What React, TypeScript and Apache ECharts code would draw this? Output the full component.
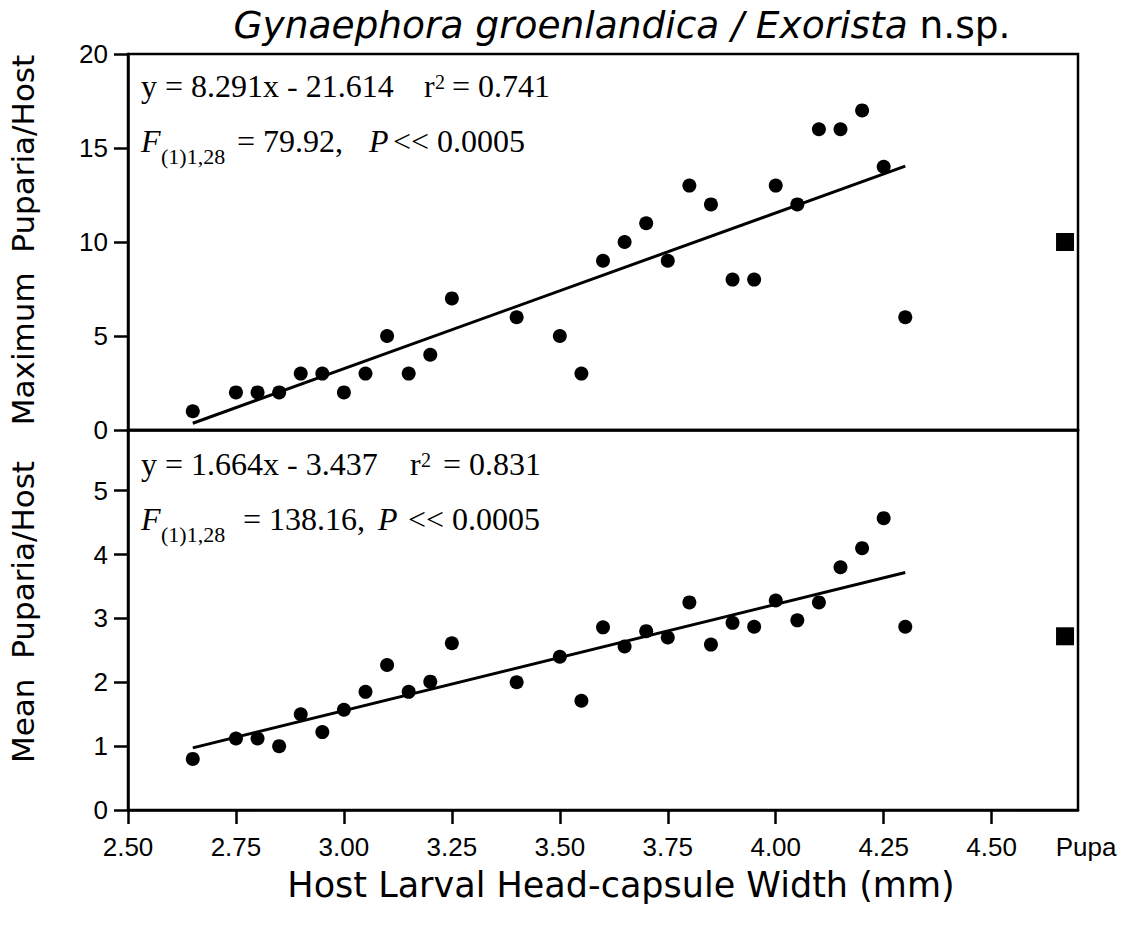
import React, { useEffect, useRef } from "react";
import * as echarts from "echarts";

// ---- data ----
const hostWidth = [
  2.65, 2.75, 2.8, 2.85, 2.9, 2.95, 3.0, 3.05, 3.1, 3.15, 3.2, 3.25, 3.4, 3.5, 3.55,
  3.6, 3.65, 3.7, 3.75, 3.8, 3.85, 3.9, 3.95, 4.0, 4.05, 4.1, 4.15, 4.2, 4.25, 4.3,
];
const maxPuparia = [
  1, 2, 2, 2, 3, 3, 2, 3, 5, 3, 4, 7, 6, 5, 3,
  9, 10, 11, 9, 13, 12, 8, 8, 13, 12, 16, 16, 17, 14, 6,
];
const meanPuparia = [
  0.8, 1.12, 1.12, 1.0, 1.5, 1.22, 1.57, 1.85, 2.27, 1.85, 2.01, 2.61, 2.0, 2.4, 1.71,
  2.86, 2.56, 2.8, 2.7, 3.25, 2.59, 2.93, 2.87, 3.28, 2.97, 3.25, 3.8, 4.1, 4.57, 2.87,
];
const pupaPosition = 4.67;
const pupaMax = 10;
const pupaMean = 2.72;
const pupaLabel = "Pupa";

const maxFit = { slope: 8.291, intercept: -21.614, from: 2.65, to: 4.3 };
const meanFit = { slope: 1.664, intercept: -3.437, from: 2.65, to: 4.3 };

const xTicks = [2.5, 2.75, 3.0, 3.25, 3.5, 3.75, 4.0, 4.25, 4.5];
const maxTicks = [0, 5, 10, 15, 20];
const meanTicks = [0, 1, 2, 3, 4, 5];

const titleItalic = "Gynaephora groenlandica / Exorista";
const titlePlain = "n.sp.";
const xTitle = "Host Larval Head-capsule Width (mm)";
const yTitleTop = "Maximum  Puparia/Host";
const yTitleBottom = "Mean  Puparia/Host";

const SANS = "DejaVu Sans";
const TICKFONT = "Liberation Sans";
const SERIF = "Liberation Serif";
const BLACK = "#000";

const fitLine = (f: { slope: number; intercept: number; from: number; to: number }) => [
  [f.from, f.slope * f.from + f.intercept],
  [f.to, f.slope * f.to + f.intercept],
];

// serif annotation piece placed by its baseline
const MAIN = 32;
const SUB = 22;
const SUP = 20;
const piece = (text: string, x: number, baseline: number, fs: number, italic = false) => ({
  type: "text",
  x,
  y: baseline - 0.3375 * fs,
  style: {
    text,
    fontSize: fs,
    fontFamily: SERIF,
    fontStyle: italic ? "italic" : "normal",
    align: "left",
    verticalAlign: "middle",
    fill: BLACK,
  },
});

export default function App() {
  const ref = useRef<HTMLDivElement>(null);
  useEffect(() => {
    if (!ref.current) return;
    const chart = echarts.init(ref.current, null, { renderer: "svg" });
    const axisLineStyle = { color: BLACK, width: 2.5 };
    const tickLabel = { fontSize: 26, fontFamily: TICKFONT, color: BLACK };
    const gridBase = {
      left: 128,
      width: 950,
      show: true,
      borderColor: BLACK,
      borderWidth: 2.5,
      backgroundColor: "transparent",
      containLabel: false,
    };
    const dot = { color: BLACK, opacity: 1 };
    const option: any = {
      animation: false,
      backgroundColor: "#fff",
      grid: [
        { ...gridBase, top: 54, height: 376 },
        { ...gridBase, top: 430, height: 380 },
      ],
      xAxis: [
        {
          gridIndex: 0,
          type: "value",
          min: 2.5,
          max: 4.7,
          axisLine: { show: true, onZero: false, lineStyle: axisLineStyle },
          axisTick: { show: false },
          axisLabel: { show: false },
          splitLine: { show: false },
        },
        {
          gridIndex: 1,
          type: "value",
          min: 2.5,
          max: 4.7,
          axisLine: { show: true, onZero: false, lineStyle: axisLineStyle },
          axisTick: { show: true, customValues: xTicks, length: 14, lineStyle: axisLineStyle },
          axisLabel: {
            ...tickLabel,
            customValues: [...xTicks, pupaPosition],
            margin: 24,
            formatter: (v: number) => (Math.abs(v - pupaPosition) < 1e-6 ? `{p|${pupaLabel}}` : v.toFixed(2)),
            rich: { p: { ...tickLabel, padding: [0, 0, 0, 42] } },
          },
          splitLine: { show: false },
        },
      ],
      yAxis: [
        {
          gridIndex: 0,
          type: "value",
          min: 0,
          max: 20,
          axisLine: { show: true, onZero: false, lineStyle: axisLineStyle },
          axisTick: { show: true, customValues: maxTicks, length: 14, lineStyle: axisLineStyle },
          axisLabel: { ...tickLabel, customValues: maxTicks, margin: 20 },
          splitLine: { show: false },
        },
        {
          gridIndex: 1,
          type: "value",
          min: 0,
          max: 5.95,
          axisLine: { show: true, onZero: false, lineStyle: axisLineStyle },
          axisTick: { show: true, customValues: meanTicks, length: 14, lineStyle: axisLineStyle },
          axisLabel: { ...tickLabel, customValues: meanTicks, margin: 20 },
          splitLine: { show: false },
        },
      ],
      series: [
        {
          type: "scatter",
          xAxisIndex: 0,
          yAxisIndex: 0,
          symbol: "circle",
          symbolSize: 14,
          itemStyle: dot,
          data: hostWidth.map((x, i) => [x, maxPuparia[i]]),
        },
        {
          type: "scatter",
          xAxisIndex: 0,
          yAxisIndex: 0,
          symbol: "rect",
          symbolSize: 18,
          itemStyle: dot,
          data: [[pupaPosition, pupaMax]],
        },
        {
          type: "line",
          xAxisIndex: 0,
          yAxisIndex: 0,
          showSymbol: false,
          lineStyle: { color: BLACK, width: 3 },
          data: fitLine(maxFit),
        },
        {
          type: "scatter",
          xAxisIndex: 1,
          yAxisIndex: 1,
          symbol: "circle",
          symbolSize: 14,
          itemStyle: dot,
          data: hostWidth.map((x, i) => [x, meanPuparia[i]]),
        },
        {
          type: "scatter",
          xAxisIndex: 1,
          yAxisIndex: 1,
          symbol: "rect",
          symbolSize: 18,
          itemStyle: dot,
          data: [[pupaPosition, pupaMean]],
        },
        {
          type: "line",
          xAxisIndex: 1,
          yAxisIndex: 1,
          showSymbol: false,
          lineStyle: { color: BLACK, width: 3 },
          data: fitLine(meanFit),
        },
      ],
      graphic: [
        {
          type: "text",
          x: 622,
          y: 25,
          style: {
            text: `{i|${titleItalic}} {n|${titlePlain}}`,
            rich: {
              i: { fontSize: 37.5, fontFamily: SANS, fontStyle: "italic", fill: BLACK },
              n: { fontSize: 37.5, fontFamily: SANS, fill: BLACK },
            },
            fontSize: 37.5,
            fontFamily: SANS,
            align: "center",
            verticalAlign: "middle",
            fill: BLACK,
          },
        },
        {
          type: "text",
          x: 621,
          y: 885,
          style: { text: xTitle, fontSize: 35, fontFamily: SANS, align: "center", verticalAlign: "middle", fill: BLACK },
        },
        {
          type: "text",
          x: 23,
          y: 240,
          rotation: Math.PI / 2,
          style: { text: yTitleTop, fontSize: 31, fontFamily: SANS, align: "center", verticalAlign: "middle", fill: BLACK },
        },
        {
          type: "text",
          x: 23,
          y: 612,
          rotation: Math.PI / 2,
          style: { text: yTitleBottom, fontSize: 31, fontFamily: SANS, align: "center", verticalAlign: "middle", fill: BLACK },
        },
        // top panel annotation
        piece("y = 8.291x - 21.614", 141, 97, MAIN),
        piece("r", 424, 97, MAIN),
        piece("2", 435, 89, SUP),
        piece("= 0.741", 452, 97, MAIN),
        piece("F", 141, 152, MAIN, true),
        piece("(1)1,28", 161, 164, SUB),
        piece("= 79.92,", 237, 152, MAIN),
        piece("P", 369, 152, MAIN, true),
        piece("<< 0.0005", 393, 152, MAIN),
        // bottom panel annotation
        piece("y = 1.664x - 3.437", 141, 475, MAIN),
        piece("r", 410, 475, MAIN),
        piece("2", 421, 467, SUP),
        piece("= 0.831", 443, 475, MAIN),
        piece("F", 141, 530, MAIN, true),
        piece("(1)1,28", 161, 542, SUB),
        piece("= 138.16,", 243, 530, MAIN),
        piece("P", 378, 530, MAIN, true),
        piece("<< 0.0005", 408, 530, MAIN),
      ],
    };
    chart.setOption(option);
    return () => chart.dispose();
  }, []);
  return (
    <div
      ref={ref}
      style={{ position: "absolute", left: 0, top: 0, width: 1133, height: 936, background: "#fff" }}
    />
  );
}
